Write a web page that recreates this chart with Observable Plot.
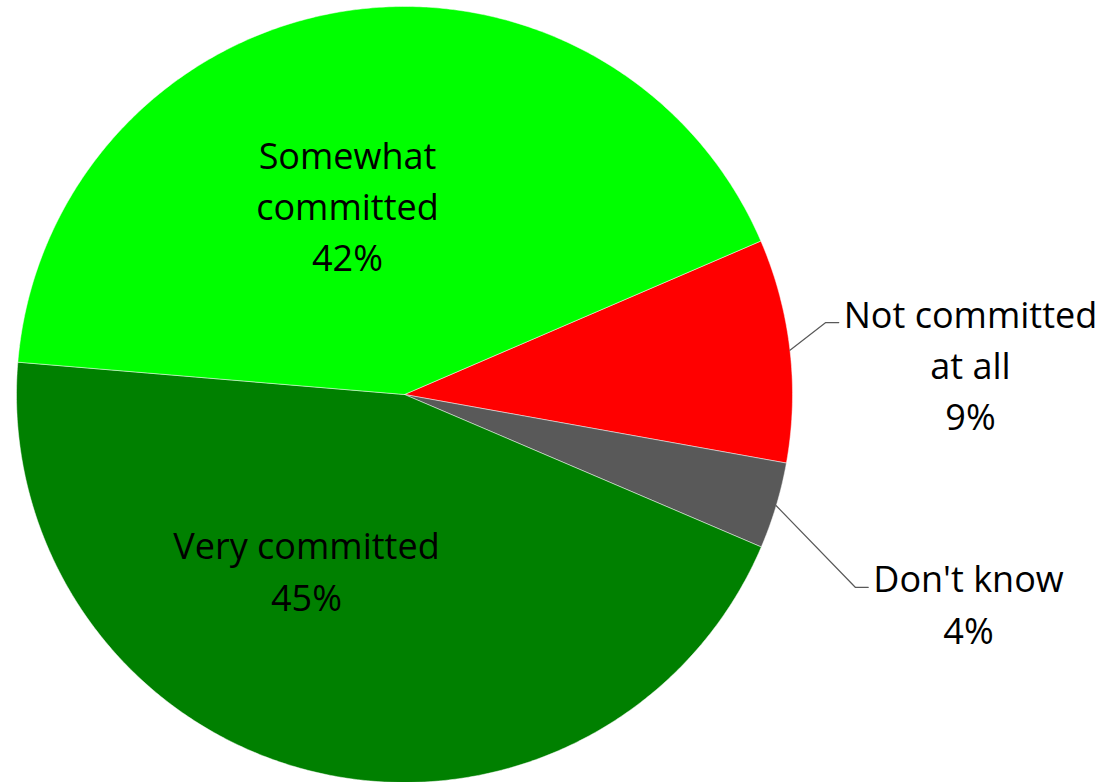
<!DOCTYPE html>
<html>
<head>
<meta charset="utf-8">
<script src="https://cdn.jsdelivr.net/npm/d3@7"></script>
<script src="https://cdn.jsdelivr.net/npm/@observablehq/plot@0.6"></script>
<style>
  html, body { margin: 0; padding: 0; background: #ffffff; }
  #chart svg { display: block; }
  #chart text { font-variant-ligatures: none; }
</style>
</head>
<body>
<div id="chart"></div>
<script>
// ---- data ----
const categories = ["Not committed at all", "Don't know", "Very committed", "Somewhat committed"];
const labelTexts = ["Not committed\nat all", "Don't know", "Very committed", "Somewhat\ncommitted"];
const values = [9.3, 3.6, 44.9, 42.2];   // shares (%) as drawn; labels show them rounded
const colors = ["#FF0000", "#595959", "#008000", "#00FF00"];

// ---- layout ----
const W = 1108, H = 782;
const R = 388;                      // pie radius (px)
const CX = 404, CY = 394;           // pie centre (px)
const startDeg = 66.7;              // first slice begins here (clockwise from 12 o'clock)
const fontSize = 36;
const fontFamily = "'Open Sans'";
const lineH = 1.43;
// label anchors (offsets from centre, px; y up)
const labelPos = [
  {dx: 970 - CX, dy: 32, outside: true},
  {dx: 968 - CX, dy: -207, outside: true},
  {dx: -98, dy: -174, outside: false},
  {dx: -57, dy: 191, outside: false}
];

const table = categories.map((c, i) => ({category: c, label: labelTexts[i], value: values[i], color: colors[i]}));
const a0 = startDeg * Math.PI / 180;
const arcs = d3.pie().sort(null).value(d => d.value).startAngle(a0).endAngle(a0 + 2 * Math.PI)(table);

const toXY = (a, r) => [r * Math.sin(a), r * Math.cos(a)];

// slice polygons
const slices = arcs.map(arc => {
  const pts = [{x: 0, y: 0}];
  const n = Math.max(8, Math.ceil((arc.endAngle - arc.startAngle) / (Math.PI / 360)));
  for (let k = 0; k <= n; k++) {
    const a = arc.startAngle + (arc.endAngle - arc.startAngle) * k / n;
    const [x, y] = toXY(a, R);
    pts.push({x, y});
  }
  pts.push({x: 0, y: 0});
  return {pts, color: arc.data.color};
});

// label records
const labels = arcs.map((arc, i) => {
  const p = labelPos[i];
  const text = arc.data.label + "\n" + Math.round(arc.data.value) + "%";
  return {x: p.dx, y: p.dy, text, outside: p.outside, arc};
});

// leader lines for outside labels
const leaders = [];
const ctx = document.createElement("canvas").getContext("2d");
ctx.font = `${fontSize}px ${fontFamily}`;
labels.forEach(l => {
  if (!l.outside) return;
  const mid = (l.arc.startAngle + l.arc.endAngle) / 2;
  const [sx, sy] = toXY(mid, R);
  const lines = l.text.split("\n");
  const nL = lines.length;
  const firstBase = l.y + ((nL - 1) / 2 * lineH - 0.32) * fontSize;
  const w = ctx.measureText(lines[0]).width;
  const left = l.x - w / 2 - 5;
  leaders.push({pts: [{x: sx, y: sy}, {x: left - 13, y: firstBase}, {x: left, y: firstBase}]});
});

const marks = [];
slices.forEach(s => {
  marks.push(Plot.line(s.pts, {x: "x", y: "y", fill: s.color, stroke: "#ffffff", strokeWidth: 0.8, strokeOpacity: 0.6, curve: "linear"}));
});
leaders.forEach(l => {
  marks.push(Plot.line(l.pts, {x: "x", y: "y", stroke: "#595959", strokeWidth: 1.2, curve: "linear"}));
});
marks.push(Plot.text(labels, {
  x: "x", y: "y", text: "text",
  fontSize, lineHeight: lineH, lineAnchor: "middle", textAnchor: "middle",
  fill: "#000000"
}));

const chart = Plot.plot({
  width: W, height: H,
  margin: 0,
  x: {domain: [-CX, W - CX], axis: null},
  y: {domain: [-(H - CY), CY], axis: null},
  style: {fontFamily: fontFamily + ", sans-serif", background: "#ffffff"},
  marks
});
document.getElementById("chart").appendChild(chart);
</script>
</body>
</html>
